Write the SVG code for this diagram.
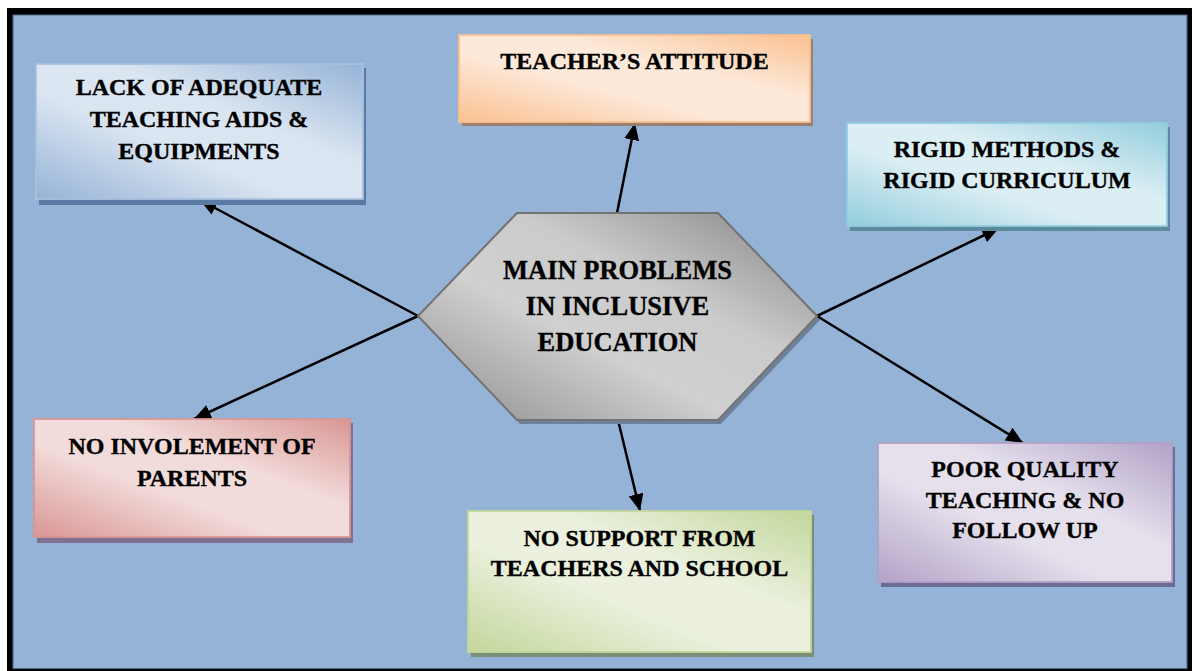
<svg xmlns="http://www.w3.org/2000/svg" width="1192" height="671" viewBox="0 0 1192 671">
  <defs>
    <style>
      text { font-family: 'Liberation Serif', 'Tinos', 'DejaVu Serif', serif; font-weight: 700; font-size: 24px; fill: #000; stroke: #000; stroke-width: 0.35; text-anchor: middle; }
      .hex { font-size: 26.5px; }
      .conn { stroke: #000; stroke-width: 2.5; fill: none; marker-end: url(#arrow); }
      .box { stroke-width: 1.8; }
    </style>
    <marker id="arrow" markerUnits="userSpaceOnUse" markerWidth="19" markerHeight="16" refX="17" refY="7.5" orient="auto">
      <path d="M0,0 L17,7.5 L0,15 Z" fill="#000"/>
    </marker>
    <linearGradient id="gBlue" x1="0" y1="1" x2="1" y2="0">
      <stop offset="0" stop-color="#95b3d7"/><stop offset="0.4" stop-color="#dbe5f1"/><stop offset="0.62" stop-color="#dbe5f1"/><stop offset="1" stop-color="#95b3d7"/>
    </linearGradient>
    <linearGradient id="gOrange" x1="0" y1="1" x2="1" y2="0">
      <stop offset="0" stop-color="#fac090"/><stop offset="0.4" stop-color="#fde9d9"/><stop offset="0.62" stop-color="#fde9d9"/><stop offset="1" stop-color="#fac090"/>
    </linearGradient>
    <linearGradient id="gAqua" x1="0" y1="1" x2="1" y2="0">
      <stop offset="0" stop-color="#93cddd"/><stop offset="0.4" stop-color="#dbeef4"/><stop offset="0.62" stop-color="#dbeef4"/><stop offset="1" stop-color="#93cddd"/>
    </linearGradient>
    <linearGradient id="gRed" x1="0" y1="1" x2="1" y2="0">
      <stop offset="0" stop-color="#d99694"/><stop offset="0.4" stop-color="#f2dcdb"/><stop offset="0.62" stop-color="#f2dcdb"/><stop offset="1" stop-color="#d99694"/>
    </linearGradient>
    <linearGradient id="gOlive" x1="0" y1="1" x2="1" y2="0">
      <stop offset="0" stop-color="#c3d69b"/><stop offset="0.4" stop-color="#ebf1de"/><stop offset="0.62" stop-color="#ebf1de"/><stop offset="1" stop-color="#c3d69b"/>
    </linearGradient>
    <linearGradient id="gPurple" x1="0" y1="1" x2="1" y2="0">
      <stop offset="0" stop-color="#b2a1c7"/><stop offset="0.4" stop-color="#e5e0ec"/><stop offset="0.62" stop-color="#e5e0ec"/><stop offset="1" stop-color="#b2a1c7"/>
    </linearGradient>
    <linearGradient id="gGrey" x1="0" y1="1" x2="1" y2="0">
      <stop offset="0" stop-color="#8c8c8c"/><stop offset="0.4" stop-color="#d0d0d0"/><stop offset="0.62" stop-color="#cbcbcb"/><stop offset="1" stop-color="#848484"/>
    </linearGradient>
  </defs>

  <rect x="0" y="0" width="1192" height="671" fill="#ffffff"/>
  <rect x="7" y="8" width="1185" height="663" fill="#000000"/>
  <rect x="13" y="15" width="1174" height="653.5" fill="#95b3d7" stroke="#4f6b8f" stroke-width="1"/>

  <g id="connectors">
    <line class="conn" x1="617" y1="213" x2="635" y2="123"/>
    <line class="conn" x1="418" y1="316" x2="200" y2="200"/>
    <line class="conn" x1="817" y1="316" x2="999" y2="228"/>
    <line class="conn" x1="418" y1="316" x2="194" y2="419"/>
    <line class="conn" x1="618" y1="420" x2="640" y2="511"/>
    <line class="conn" x1="817" y1="316" x2="1023" y2="443"/>
  </g>

  <g id="center">
    <polygon points="520,217 721,217 820,320 721,424 520,424 421,320" fill="#6f8099"/>
    <polygon points="517,213 718,213 817,316 718,420 517,420 418,316" fill="url(#gGrey)" stroke="#727272" stroke-width="2"/>
    <text class="hex" x="617.5" y="279">MAIN PROBLEMS</text>
    <text class="hex" x="617.5" y="315">IN INCLUSIVE</text>
    <text class="hex" x="617.5" y="351">EDUCATION</text>
  </g>

  <g id="box-aids">
    <rect x="39" y="68" width="327" height="137" fill="#5b7aa3"/>
    <rect class="box" x="36" y="64" width="327" height="135" fill="url(#gBlue)" stroke="#a9c1de"/>
    <text x="199" y="95">LACK OF ADEQUATE</text>
    <text x="199" y="127">TEACHING AIDS &amp;</text>
    <text x="199" y="159">EQUIPMENTS</text>
  </g>

  <g id="box-attitude">
    <rect x="462" y="39" width="351" height="87" fill="#9b8070"/>
    <rect class="box" x="459" y="35" width="351" height="87" fill="url(#gOrange)" stroke="#fac090"/>
    <text x="634.5" y="69">TEACHER’S ATTITUDE</text>
  </g>

  <g id="box-rigid">
    <rect x="850" y="127" width="320" height="104" fill="#5a8a9c"/>
    <rect class="box" x="847" y="123" width="320" height="103" fill="url(#gAqua)" stroke="#93cddd"/>
    <text x="1007" y="157">RIGID METHODS &amp;</text>
    <text x="1007" y="188">RIGID CURRICULUM</text>
  </g>

  <g id="box-parents">
    <rect x="37" y="423" width="316" height="120" fill="#7f7290"/>
    <rect class="box" x="34" y="419" width="316" height="118" fill="url(#gRed)" stroke="#d99694"/>
    <text x="192" y="454">NO INVOLEMENT OF</text>
    <text x="192" y="486">PARENTS</text>
  </g>

  <g id="box-support">
    <rect x="471" y="515" width="343" height="142" fill="#7b8f78"/>
    <rect class="box" x="468" y="511" width="343" height="141" fill="url(#gOlive)" stroke="#c3d69b"/>
    <text x="639.5" y="546">NO SUPPORT FROM</text>
    <text x="639.5" y="576">TEACHERS AND SCHOOL</text>
  </g>

  <g id="box-quality">
    <rect x="881" y="447" width="294" height="140" fill="#6d6c94"/>
    <rect class="box" x="878" y="443" width="294" height="139" fill="url(#gPurple)" stroke="#b2a1c7"/>
    <text x="1025" y="477">POOR QUALITY</text>
    <text x="1025" y="508">TEACHING &amp; NO</text>
    <text x="1025" y="538">FOLLOW UP</text>
  </g>
</svg>
